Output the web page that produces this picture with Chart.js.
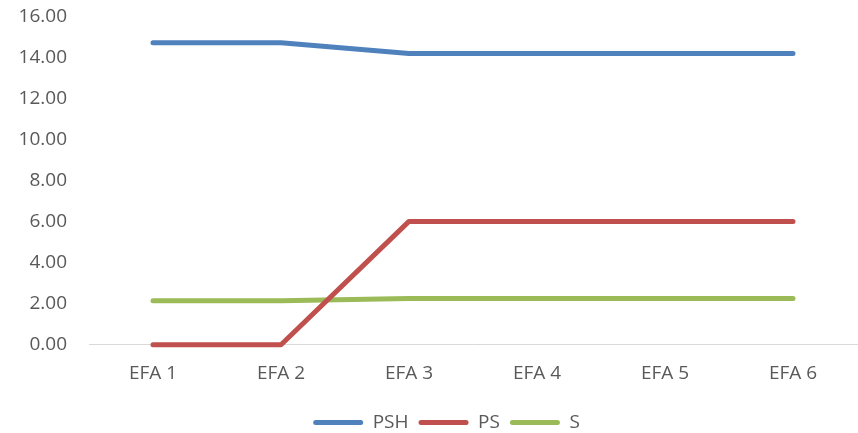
<!DOCTYPE html>
<html>
<head>
<meta charset="utf-8">
<script src="https://cdn.jsdelivr.net/npm/chart.js@4/dist/chart.umd.min.js"></script>
<style>
  html, body { margin: 0; padding: 0; background: #fff; }
  #wrap { width: 858px; height: 433px; position: relative; }
</style>
</head>
<body>
<div id="wrap"><canvas id="chart"></canvas></div>
<script>
const categories = ['EFA 1', 'EFA 2', 'EFA 3', 'EFA 4', 'EFA 5', 'EFA 6'];
const pshValues = [14.74, 14.74, 14.22, 14.22, 14.22, 14.22];
const psValues = [0, 0, 6.02, 6.02, 6.02, 6.02];
const sValues = [2.15, 2.15, 2.25, 2.25, 2.25, 2.25];

const textColor = '#595959';
const font = { family: '"Open Sans", "Liberation Sans", sans-serif', size: 19 };

function series(label, values, color) {
  return {
    label: label,
    data: values,
    borderColor: color,
    backgroundColor: color,
    borderWidth: 5,
    borderCapStyle: 'round',
    borderJoinStyle: 'round',
    pointRadius: 0,
    pointHoverRadius: 0,
    tension: 0,
    clip: false
  };
}

// nudge the legend a bit lower and right, like the original
const legendNudge = {
  id: 'legendNudge',
  afterLayout(chart) {
    const lg = chart.legend;
    lg.top += 9; lg.bottom += 9;
    lg.left += 18; lg.right += 18;
  }
};

new Chart(document.getElementById('chart'), {
  type: 'line',
  data: {
    labels: categories,
    datasets: [
      series('PSH', pshValues, '#4f81bd'),
      series('PS', psValues, '#c0504d'),
      series('S', sValues, '#9bbb59')
    ]
  },
  plugins: [legendNudge],
  options: {
    responsive: true,
    maintainAspectRatio: false,
    animation: false,
    layout: { padding: { top: 17, right: 1, left: 0, bottom: 0 } },
    scales: {
      x: {
        offset: true,
        grid: { display: false, drawTicks: false },
        border: { color: '#d9d9d9', width: 1 },
        ticks: { color: textColor, font: font, padding: 17, maxRotation: 0 },
        afterFit: scale => { scale.height -= 7.5; }
      },
      y: {
        min: 0,
        max: 16,
        grid: { display: false, drawTicks: false },
        border: { display: false },
        ticks: {
          stepSize: 2,
          color: textColor,
          font: font,
          padding: 22,
          callback: v => v.toFixed(2)
        },
        afterFit: scale => {
          scale.width = 89;
          scale.paddingTop = 0;
          scale.paddingBottom = 0;
        }
      }
    },
    plugins: {
      tooltip: { enabled: false },
      legend: {
        position: 'bottom',
        labels: {
          color: textColor,
          font: font,
          boxWidth: 50,
          boxHeight: 5,
          useBorderRadius: true,
          borderRadius: 2.5,
          padding: 10,
          generateLabels: chart =>
            Chart.defaults.plugins.legend.labels.generateLabels(chart)
              .map(item => Object.assign(item, { lineWidth: 0 }))
        }
      }
    }
  }
});
</script>
</body>
</html>
